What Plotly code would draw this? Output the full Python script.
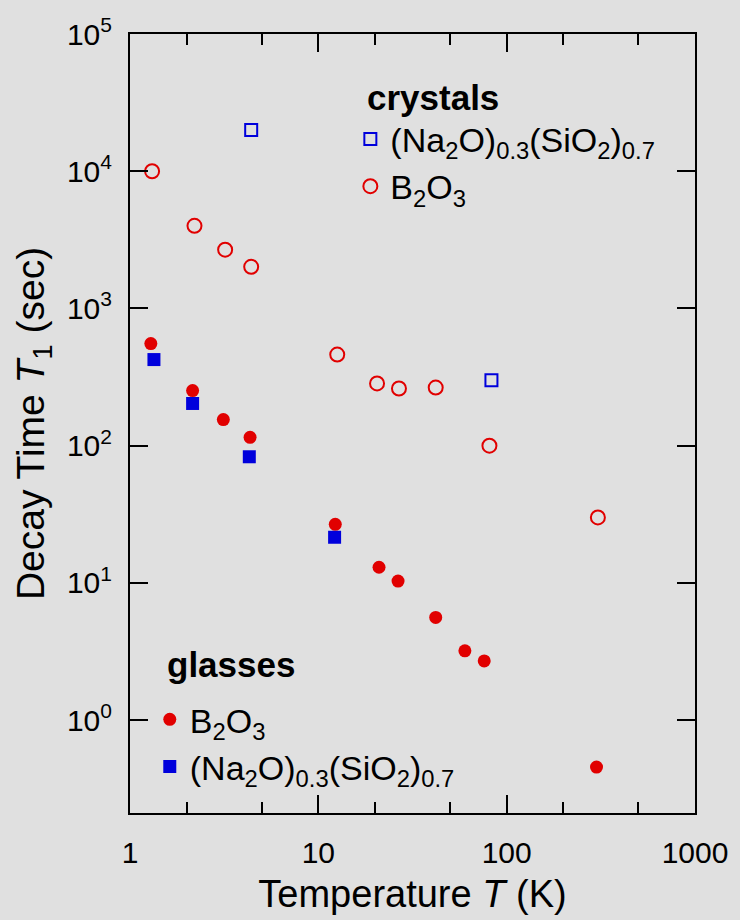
import plotly.graph_objects as go

# ---- data ----
cryst_nasi_T = [4.4, 83]
cryst_nasi_t1 = [20000, 300]

cryst_b2o3_T = [1.31, 2.2, 3.2, 4.4, 12.6, 20.5, 26.8, 42, 81, 305]
cryst_b2o3_t1 = [10000, 4000, 2680, 2010, 461, 284, 261, 265, 100, 30]

glass_b2o3_T = [1.29, 2.15, 3.13, 4.34, 12.3, 21, 26.5, 42, 60, 76, 300]
glass_b2o3_t1 = [555, 252, 155, 115, 26.7, 13, 10.3, 5.6, 3.2, 2.7, 0.455]

glass_nasi_T = [1.34, 2.15, 4.3, 12.2]
glass_nasi_t1 = [424, 203, 83, 21.5]

x_ticks = [1, 10, 100, 1000]
x_ticklabels = ["1", "10", "100", "1000"]
x_minor = [2, 5, 20, 50, 200, 500]
y_ticks = [1, 10, 100, 1000, 10000, 100000]
y_ticklabels = ["10<sup>0</sup>", "10<sup>1</sup>", "10<sup>2</sup>",
                "10<sup>3</sup>", "10<sup>4</sup>", "10<sup>5</sup>"]

NASI = "(Na<sub>2</sub>O)<sub>0.3</sub>(SiO<sub>2</sub>)<sub>0.7</sub>"
B2O3 = "B<sub>2</sub>O<sub>3</sub>"

RED = "rgb(225,0,0)"
BLUE = "rgb(0,0,220)"
FONT = "Arial, Liberation Sans, Helvetica, sans-serif"

fig = go.Figure()
fig.add_trace(go.Scatter(x=cryst_nasi_T, y=cryst_nasi_t1, mode="markers", name=NASI,
                         legend="legend",
                         marker=dict(symbol="square-open", size=12, color=BLUE,
                                     line=dict(width=2, color=BLUE))))
fig.add_trace(go.Scatter(x=cryst_b2o3_T, y=cryst_b2o3_t1, mode="markers", name=B2O3,
                         legend="legend",
                         marker=dict(symbol="circle-open", size=14, color=RED,
                                     line=dict(width=2, color=RED))))
fig.add_trace(go.Scatter(x=glass_b2o3_T, y=glass_b2o3_t1, mode="markers", name=B2O3,
                         legend="legend2",
                         marker=dict(symbol="circle", size=13, color=RED)))
fig.add_trace(go.Scatter(x=glass_nasi_T, y=glass_nasi_t1, mode="markers", name=NASI,
                         legend="legend2",
                         marker=dict(symbol="square", size=13, color=BLUE)))

axis_common = dict(
    showgrid=False, zeroline=False, showline=True, linecolor="black", linewidth=2,
    mirror="ticks", ticks="inside", ticklen=18, tickwidth=2, tickcolor="black",
    tickfont=dict(family=FONT, size=30, color="black"),
)

fig.update_xaxes(type="log", range=[0, 3], tickmode="array", tickvals=x_ticks,
                 ticktext=x_ticklabels, ticklabelstandoff=12,
                 minor=dict(tickvals=x_minor, ticks="inside", ticklen=11,
                            tickwidth=2, tickcolor="black", showgrid=False),
                 title=dict(text="Temperature <i>T</i> (K)", standoff=12,
                            font=dict(family=FONT, size=38, color="black")),
                 **axis_common)
fig.update_yaxes(type="log", range=[-0.677, 5], tickmode="array", tickvals=y_ticks,
                 ticktext=y_ticklabels, ticklabelstandoff=10,
                 title=dict(text="Decay Time <i>T</i><sub>1</sub> (sec)", standoff=10,
                            font=dict(family=FONT, size=39, color="black")),
                 **axis_common)

fig.add_annotation(x=0.4165, y=0.919, xref="paper", yref="paper",
                   xanchor="left", yanchor="middle", showarrow=False,
                   text="<b>crystals</b>", font=dict(family=FONT, size=35, color="black"))
fig.add_annotation(x=0.0615, y=0.190, xref="paper", yref="paper",
                   xanchor="left", yanchor="middle", showarrow=False,
                   text="<b>glasses</b>", font=dict(family=FONT, size=35, color="black"))

fig.update_layout(
    width=740, height=920,
    margin=dict(l=130, r=41, t=34, b=107),
    paper_bgcolor="#e0e0e0", plot_bgcolor="#e0e0e0",
    font=dict(family=FONT, color="black"),
    showlegend=True,
    legend=dict(x=0.39, y=0.902, xanchor="left", yanchor="top",
                bgcolor="rgba(0,0,0,0)", tracegroupgap=0,
                font=dict(family=FONT, size=34, color="black")),
    legend2=dict(x=0.035, y=0.157, xanchor="left", yanchor="top",
                 bgcolor="rgba(0,0,0,0)", tracegroupgap=0,
                 font=dict(family=FONT, size=34, color="black")),
)

fig.write_html("out.html")
